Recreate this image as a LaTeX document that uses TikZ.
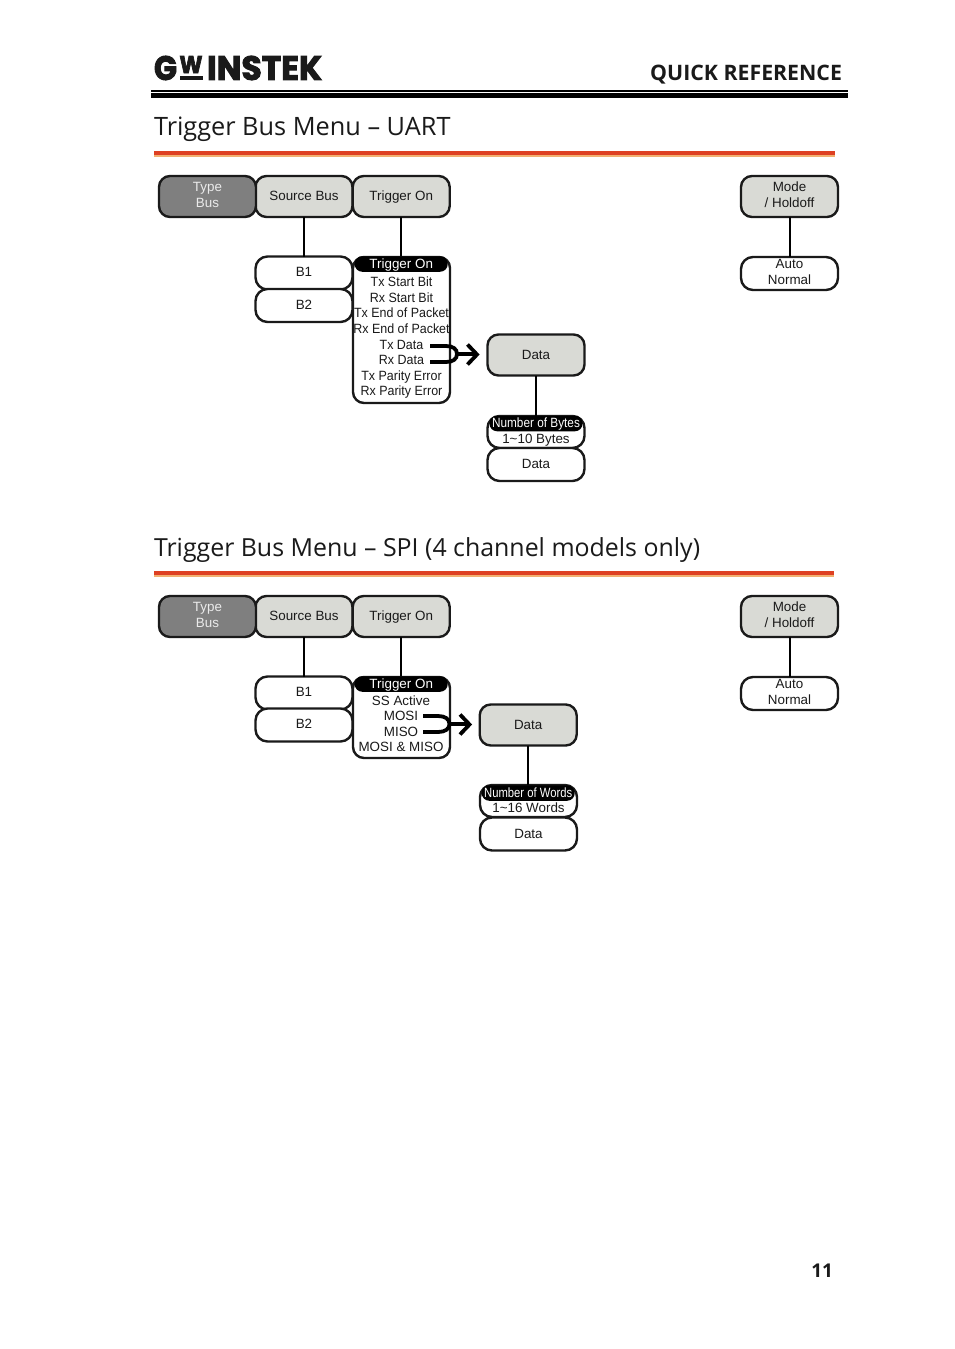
\documentclass[tikz,border=0pt]{standalone}
\usepackage{fontspec}
\setmainfont{Liberation Sans}
\newfontfamily\titlefont{Open Sans}
\newfontfamily\logofont[BoldFeatures={FakeBold=3}]{Poppins}
\usetikzlibrary{arrows.meta}
\definecolor{darkbtn}{HTML}{7F7F7F}
\definecolor{lightbtn}{HTML}{D9DAD5}
\definecolor{rulered}{HTML}{DE4022}
\definecolor{rulepeach}{HTML}{F2B070}
\definecolor{ink}{HTML}{1A1A1A}
\newcommand{\tight}[1]{\scalebox{0.93}[1]{#1}}
\tikzset{
  x=1pt,y=-1pt,
  every node/.style={inner sep=0pt,outer sep=0pt,font=\fontsize{13.4}{16}\selectfont,text=ink,align=center},
  oneline/.style={text height=10pt,text depth=3pt},
  twoline/.style={text depth=2.9pt},
  btn/.style={draw=ink,line width=2.4pt,rounded corners=11pt,minimum width=97pt,minimum height=41pt},
  typebtn/.style={btn,twoline,fill=darkbtn,text=white!92!black},
  softbtn/.style={btn,fill=lightbtn},
  softtwo/.style={softbtn,twoline},
  softone/.style={softbtn,oneline},
  softdata/.style={softbtn,text height=10pt,text depth=1.4pt},
  pill/.style={draw=ink,line width=2.4pt,rounded corners=12pt,fill=white,minimum width=97pt,minimum height=33pt},
  pillone/.style={pill,oneline},
  pilltwo/.style={pill,twoline},
  listbox/.style={draw=ink,line width=2.4pt,rounded corners=11pt,fill=white,minimum width=97pt},
  headbar/.style={fill=black,rounded corners=7.5pt,text=white,minimum width=93pt,minimum height=15.5pt,text height=10pt,text depth=2pt},
  link/.style={draw=black,line width=2pt},
  merge/.style={draw=black,line width=3.8pt},
  chevron/.style={draw=black,line width=3.8pt,line join=miter},
  title/.style={anchor=base west,font=\titlefont\fontsize{25.3}{30}\selectfont,text=ink},
}
\begin{document}
\begin{tikzpicture}
\useasboundingbox (0,0) rectangle (954,1349);
\fill[white] (0,0) rectangle (954,1349);
% header
\node[anchor=center] (logog) at (165.5,68) {\resizebox{23pt}{24pt}{\logofont\bfseries G}};
\node[anchor=center] (logow) at (191,64.5) {\resizebox{23pt}{17pt}{\logofont\bfseries W}};
\fill[black!90] (179.5,75.5) rectangle (202.5,80);
\node[anchor=center] (logob) at (264.5,68) {\resizebox{115pt}{24pt}{\logofont\bfseries INSTEK}};
\node[anchor=base east,font=\titlefont\bfseries\fontsize{21.3}{24}\selectfont] (quick) at (842,80) {QUICK REFERENCE};
\fill[black] (151,90) rectangle (848,92);
\fill[black] (151,93) rectangle (848,98);
\node[title] (title1) at (154,135.5) {Trigger Bus Menu – UART};
\fill[rulered] (154,151) rectangle (835,155);
\fill[rulepeach] (154,155) rectangle (835,157);
\node[title,font=\titlefont\fontsize{24.9}{30}\selectfont] (title2) at (154,556.5) {Trigger Bus Menu – SPI (4 channel models only)};
\fill[rulered] (154,571) rectangle (834,575);
\fill[rulepeach] (154,575) rectangle (834,577);
\node[anchor=base east,font=\titlefont\bfseries\fontsize{19}{24}\selectfont] (pageno) at (833,1277) {11};

% ---- UART
\node[softone] (ua-src) at (304,196.5) {Source Bus};
\node[softone] (ua-trg) at (401.2,196.5) {Trigger On};
\node[typebtn] (ua-type) at (207.5,196.5) {Type\\Bus};
\node[softtwo] (ua-mode) at (789.5,196.5) {Mode\\/ Holdoff};
\node[pillone] (ua-b1) at (304,273) {B1};
\node[pillone] (ua-b2) at (304,305.5) {B2};
\node[pilltwo] (ua-auto) at (789.5,273.5) {Auto\\Normal};
\node[listbox,minimum height=146pt] (ua-list) at (401.5,330) {};
\node[headbar] (ua-head) at (401.2,264) {Trigger On};
\node[oneline] (ua-i1) at (401.5,283.3) {\tight{Tx Start Bit}};
\node[oneline] (ua-i2) at (401.5,299.3) {\tight{Rx Start Bit}};
\node[oneline] (ua-i3) at (401.5,314.3) {\tight{Tx End of Packet}};
\node[oneline] (ua-i4) at (401.5,330.3) {\tight{Rx End of Packet}};
\node[oneline] (ua-i5) at (401.5,346.3) {\tight{Tx Data}};
\node[oneline] (ua-i6) at (401.5,361.3) {\tight{Rx Data}};
\node[oneline] (ua-i7) at (401.5,377.3) {\tight{Tx Parity Error}};
\node[oneline] (ua-i8) at (401.5,392.3) {\tight{Rx Parity Error}};
\node[softdata] (ua-data) at (536,355) {Data};
\node[pill,minimum height=32pt] (ua-num) at (536,432) {};
\node[headbar] (ua-numh) at (536,423.5) {\scalebox{0.88}[1]{Number of Bytes}};
\node[oneline] (ua-numv) at (536,440.3) {1\textasciitilde10 Bytes};
\node[pillone] (ua-dat2) at (536,464.5) {Data};
\draw[link] (ua-src.south) -- (ua-b1.north);
\draw[link] (ua-trg.south) -- (ua-head.north);
\draw[link] (ua-mode.south) -- (ua-auto.north);
\draw[link] (ua-data.south) -- (ua-numh.north);
\coordinate (ua-ma) at (430,346);
\coordinate (ua-mb) at (430,362);
\coordinate (ua-mc) at (457,354);
\draw[merge] (ua-ma) -- (446,346) .. controls (453,346) and (457,349) .. (ua-mc) .. controls (457,359) and (453,362) .. (446,362) -- (ua-mb);
\draw[merge] (ua-mc) -- (477,354);
\draw[chevron] (467.5,344.5) -- (477,354.5) -- (467.5,364.5);

% ---- SPI
\node[softone] (sp-src) at (304,616.5) {Source Bus};
\node[softone] (sp-trg) at (401.2,616.5) {Trigger On};
\node[typebtn] (sp-type) at (207.5,616.5) {Type\\Bus};
\node[softtwo] (sp-mode) at (789.5,616.5) {Mode\\/ Holdoff};
\node[pillone] (sp-b1) at (304,693) {B1};
\node[pillone] (sp-b2) at (304,725) {B2};
\node[pilltwo] (sp-auto) at (789.5,693.5) {Auto\\Normal};
\node[listbox,minimum height=81pt] (sp-list) at (401.5,717.5) {};
\node[headbar] (sp-head) at (401.2,684) {Trigger On};
\node[oneline] (sp-i1) at (401,702.3) {SS Active};
\node[oneline] (sp-i2) at (401,717.3) {MOSI};
\node[oneline] (sp-i3) at (401,733.3) {MISO};
\node[oneline] (sp-i4) at (401,748.3) {MOSI \& MISO};
\node[softdata] (sp-data) at (528.2,725) {Data};
\node[pill,minimum height=32pt] (sp-num) at (528.5,801) {};
\node[headbar] (sp-numh) at (528.2,793) {\scalebox{0.84}[1]{Number of Words}};
\node[oneline] (sp-numv) at (528.5,809.3) {1\textasciitilde16 Words};
\node[pill,text height=10pt,text depth=1.4pt] (sp-dat2) at (528.5,834) {Data};
\draw[link] (sp-src.south) -- (sp-b1.north);
\draw[link] (sp-trg.south) -- (sp-head.north);
\draw[link] (sp-mode.south) -- (sp-auto.north);
\draw[link] (sp-data.south) -- (sp-numh.north);
\coordinate (sp-ma) at (423,716);
\coordinate (sp-mb) at (423,732);
\coordinate (sp-mc) at (449.5,724);
\draw[merge] (sp-ma) -- (438,716) .. controls (445,716) and (449.5,719) .. (sp-mc) .. controls (449.5,729) and (445,732) .. (438,732) -- (sp-mb);
\draw[merge] (sp-mc) -- (469,724);
\draw[chevron] (460,714.5) -- (469.5,724.5) -- (460,734.5);
\end{tikzpicture}
\end{document}
